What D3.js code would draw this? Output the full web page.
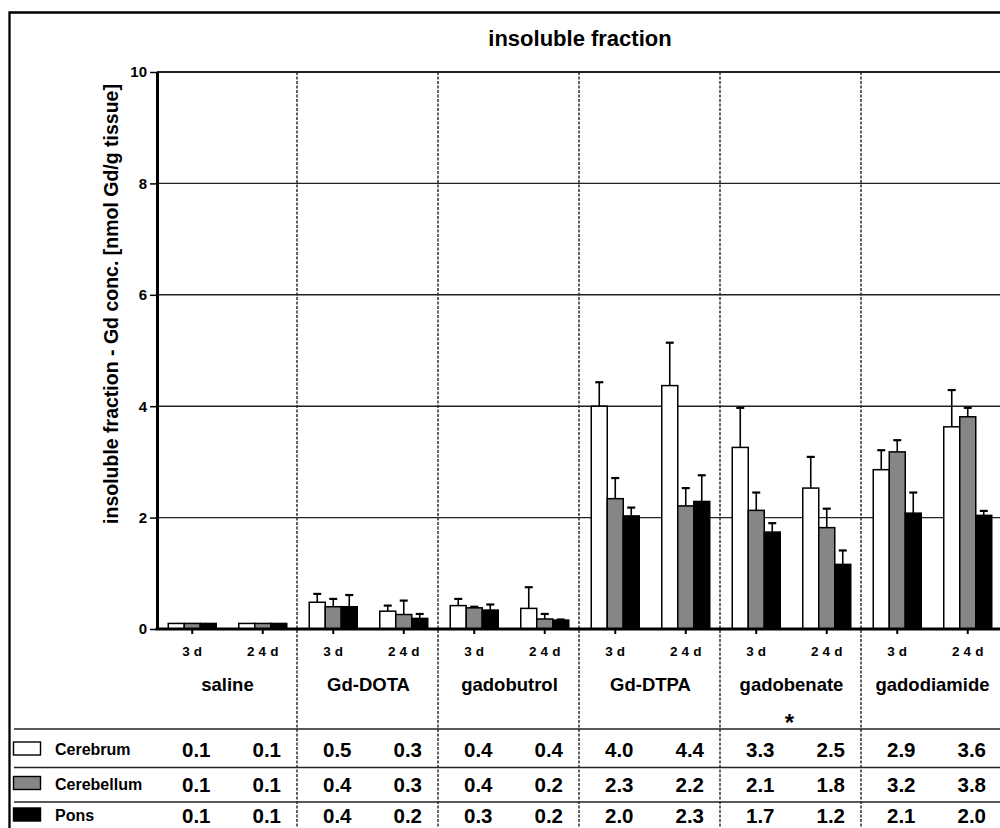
<!DOCTYPE html>
<html>
<head>
<meta charset="utf-8">
<script src="https://cdn.jsdelivr.net/npm/d3@7"></script>
<style>
  html, body { margin: 0; padding: 0; background: #fff; }
  svg { display: block; font-family: "Liberation Sans", Arial, Helvetica, sans-serif; font-weight: bold; }
</style>
</head>
<body>
<div id="chart"></div>
<script>
// categories
const groups = ["saline", "Gd-DOTA", "gadobutrol", "Gd-DTPA", "gadobenate", "gadodiamide"];
const times = ["3d", "24d"];
const series = ["Cerebrum", "Cerebellum", "Pons"];
const seriesFill = ["#ffffff", "#868686", "#000000"];
const yTicks = [0, 2, 4, 6, 8, 10];

// means, one value per group x time (saline 3d, saline 24d, Gd-DOTA 3d, ...)
const cerebrum   = [0.10, 0.10, 0.48, 0.32, 0.42, 0.37, 4.00, 4.37, 3.26, 2.53, 2.86, 3.63];
const cerebellum = [0.10, 0.10, 0.40, 0.26, 0.38, 0.18, 2.34, 2.21, 2.13, 1.82, 3.18, 3.81];
const pons       = [0.10, 0.10, 0.40, 0.19, 0.34, 0.16, 2.03, 2.29, 1.74, 1.16, 2.08, 2.04];

// upper error bars (SD)
const cerebrumErr   = [0, 0, 0.15, 0.10, 0.12, 0.38, 0.43, 0.77, 0.71, 0.56, 0.35, 0.66];
const cerebellumErr = [0, 0, 0.14, 0.25, 0.02, 0.09, 0.37, 0.32, 0.32, 0.34, 0.21, 0.16];
const ponsErr       = [0, 0, 0.21, 0.08, 0.10, 0.01, 0.15, 0.47, 0.16, 0.25, 0.37, 0.08];

const starGroup = "gadobenate";

const values = [cerebrum, cerebellum, pons];
const errors = [cerebrumErr, cerebellumErr, ponsErr];

const W = 1000, H = 828;
const mLeft = 157, mTop = 72, mBottom = 629, mRight = 1003;

const svg = d3.select("#chart").append("svg")
  .attr("width", W).attr("height", H);

// scales
const x = d3.scaleBand().domain(groups).range([mLeft, mRight]);
const xt = d3.scaleBand().domain(times).range([0, x.bandwidth()]);
const xs = d3.scaleBand().domain(series).range([-24, 24]);
const y = d3.scaleLinear().domain([0, 10]).range([mBottom, mTop]);

const cx = i => x(groups[Math.floor(i / 2)]) + xt(times[i % 2]) + xt.bandwidth() / 2;

// outer frame (cropped on the right and bottom)
svg.append("path")
  .attr("d", `M9.5,${H} V12.5 H${W}`)
  .attr("fill", "none").attr("stroke", "#000").attr("stroke-width", 2.3);

// title
svg.append("text")
  .attr("x", 580).attr("y", 46)
  .attr("text-anchor", "middle")
  .style("font-size", "22px")
  .text("insoluble fraction");

// horizontal gridlines
svg.append("g").selectAll("line")
  .data(yTicks.filter(d => d > 0))
  .enter().append("line")
  .attr("x1", mLeft).attr("x2", W)
  .attr("y1", d => y(d)).attr("y2", d => y(d))
  .attr("stroke", "#222")
  .attr("stroke-width", d => d === 10 ? 2 : 1.4);

// dotted group separators
svg.append("g").selectAll("line")
  .data(groups.slice(1))
  .enter().append("line")
  .attr("x1", d => x(d) - 1).attr("x2", d => x(d) - 1)
  .attr("y1", mTop).attr("y2", H)
  .attr("stroke", "#222")
  .attr("stroke-width", 1.4)
  .attr("stroke-dasharray", "3,1.5");

// bars
const bars = svg.append("g");
series.forEach((s, si) => {
  bars.selectAll("rect.s" + si)
    .data(values[si])
    .enter().append("rect")
    .attr("class", "s" + si)
    .attr("x", (d, i) => cx(i) + xs(s))
    .attr("y", d => y(d))
    .attr("width", xs.bandwidth())
    .attr("height", d => mBottom - y(d))
    .attr("fill", seriesFill[si])
    .attr("stroke", "#000")
    .attr("stroke-width", 1.5);
});

// error bars
const errs = svg.append("g").attr("stroke", "#000");
series.forEach((s, si) => {
  values[si].forEach((v, i) => {
    const e = errors[si][i];
    if (e <= 0) return;
    const bx = cx(i) + xs(s) + xs.bandwidth() / 2;
    errs.append("line")
      .attr("x1", bx).attr("x2", bx)
      .attr("y1", y(v)).attr("y2", y(v + e))
      .attr("stroke-width", 1.6);
    errs.append("line")
      .attr("x1", bx - 4).attr("x2", bx + 4)
      .attr("y1", y(v + e)).attr("y2", y(v + e))
      .attr("stroke-width", 2.2);
  });
});

// y axis
const yAxis = svg.append("g")
  .attr("transform", `translate(${mLeft},0)`)
  .call(d3.axisLeft(y).tickValues(yTicks).tickSize(7).tickPadding(3).tickSizeOuter(0));
yAxis.select(".domain").attr("stroke-width", 3);
yAxis.selectAll(".tick line").attr("stroke-width", 1.5);
yAxis.selectAll(".tick text")
  .style("font-size", "15px").style("font-family", "inherit").attr("fill", "#000");

// x axis line + ticks at each time point
svg.append("line")
  .attr("x1", mLeft - 1.5).attr("x2", W)
  .attr("y1", mBottom).attr("y2", mBottom)
  .attr("stroke", "#000").attr("stroke-width", 3);
svg.append("g").selectAll("line")
  .data(d3.range(groups.length * times.length))
  .enter().append("line")
  .attr("x1", i => cx(i)).attr("x2", i => cx(i))
  .attr("y1", mBottom).attr("y2", mBottom + 5)
  .attr("stroke", "#000").attr("stroke-width", 2);

// time labels
svg.append("g").selectAll("text")
  .data(d3.range(groups.length * times.length))
  .enter().append("text")
  .attr("x", i => cx(i) + 2).attr("y", 656)
  .attr("text-anchor", "middle")
  .style("font-size", "13.5px")
  .style("letter-spacing", "4px")
  .text(i => times[i % 2]);

// group labels
svg.append("g").selectAll("text")
  .data(groups)
  .enter().append("text")
  .attr("x", d => x(d) + x.bandwidth() / 2).attr("y", 691)
  .attr("text-anchor", "middle")
  .style("font-size", "18.5px")
  .text(d => d);

// asterisk
svg.append("text")
  .attr("x", x(starGroup) + x.bandwidth() / 2 - 2).attr("y", 731)
  .attr("text-anchor", "middle")
  .style("font-size", "24px")
  .text("*");

// y label
svg.append("text")
  .attr("transform", "translate(118,304) rotate(-90)")
  .attr("text-anchor", "middle")
  .style("font-size", "19.5px")
  .text("insoluble fraction - Gd conc. [nmol Gd/g tissue]");

// table
const rowLines = [729, 767.5, 802];
const rowBase = [757, 791.5, 823];
svg.append("g").selectAll("line")
  .data(rowLines)
  .enter().append("line")
  .attr("x1", 14).attr("x2", W)
  .attr("y1", d => d).attr("y2", d => d)
  .attr("stroke", "#222").attr("stroke-width", 1.6);

const fmt = d3.format(".1f");
series.forEach((s, si) => {
  svg.append("rect")
    .attr("x", 13.5).attr("y", rowBase[si] - 15)
    .attr("width", 27).attr("height", 13)
    .attr("fill", seriesFill[si]).attr("stroke", "#000").attr("stroke-width", 1.4);
  svg.append("text")
    .attr("x", 55).attr("y", rowBase[si] - 2)
    .style("font-size", "16px")
    .text(s);
  svg.append("g").selectAll("text")
    .data(values[si])
    .enter().append("text")
    .attr("x", (d, i) => cx(i) + 4).attr("y", rowBase[si])
    .attr("text-anchor", "middle")
    .style("font-size", "20.5px")
    .text(d => fmt(d));
});
</script>
</body>
</html>
